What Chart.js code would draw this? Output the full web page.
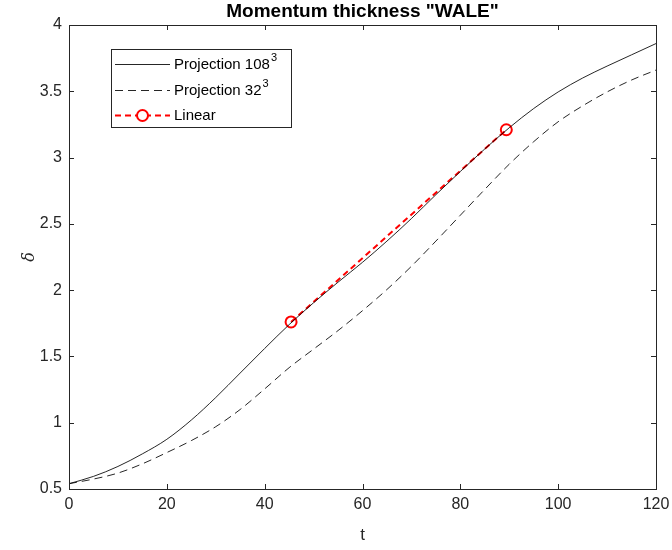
<!DOCTYPE html>
<html>
<head>
<meta charset="utf-8">
<title>Momentum thickness</title>
<script src="https://cdn.jsdelivr.net/npm/chart.js@4.4.1/dist/chart.umd.min.js"></script>
<style>
    html, body { margin: 0; padding: 0; background: #ffffff; }
    #wrap { width: 672px; height: 550px; }
</style>
</head>
<body>
<div id="wrap"><canvas id="thetaChart"></canvas></div>
<script>
// momentum thickness vs time, two projection resolutions + linear fit segment
const tValues = [0, 5, 10, 15, 20, 25, 30, 35, 40, 45, 50, 55, 60, 65, 70, 75, 80, 85, 90, 95, 100, 105, 110, 115, 120];
const proj108 = [0.54, 0.595, 0.67, 0.765, 0.875, 1.02, 1.19, 1.375, 1.56, 1.74, 1.905, 2.06, 2.21, 2.37, 2.54, 2.72, 2.895, 3.065, 3.225, 3.37, 3.495, 3.60, 3.69, 3.775, 3.86];
const proj32 = [0.54, 0.575, 0.62, 0.69, 0.775, 0.865, 0.97, 1.10, 1.255, 1.415, 1.555, 1.695, 1.845, 2.005, 2.18, 2.37, 2.565, 2.76, 2.95, 3.12, 3.27, 3.39, 3.495, 3.585, 3.66];
const linearT = [45.4, 89.4];
const linearDelta = [1.76, 3.21];

const xTicks = [0, 20, 40, 60, 80, 100, 120];
const yTicks = [0.5, 1, 1.5, 2, 2.5, 3, 3.5, 4];

const legendItems = [
    { text: 'Projection 108', sup: '3' },
    { text: 'Projection 32', sup: '3' },
    { text: 'Linear', sup: '' }
];

const axisColor = '#262626';
const fontFamily = '"Liberation Sans", Arial, Helvetica, sans-serif';

function toPoints(xs, ys) {
    return xs.map((x, i) => ({ x: x, y: ys[i] }));
}

// box around the axes with inward ticks on all four sides, plus title and legend
const matlabAxes = {
    id: 'matlabAxes',
    afterDraw(chart) {
        const ctx = chart.ctx;
        const a = chart.chartArea;
        const sx = chart.scales.x;
        const sy = chart.scales.y;
        const tickLen = 5;

        ctx.save();
        ctx.strokeStyle = axisColor;
        ctx.lineWidth = 1;
        ctx.strokeRect(Math.round(a.left) + 0.5, Math.round(a.top) + 0.5,
            Math.round(a.right - a.left), Math.round(a.bottom - a.top));

        ctx.beginPath();
        xTicks.forEach(v => {
            const px = Math.round(sx.getPixelForValue(v)) + 0.5;
            ctx.moveTo(px, a.bottom);
            ctx.lineTo(px, a.bottom - tickLen);
            ctx.moveTo(px, a.top);
            ctx.lineTo(px, a.top + tickLen);
        });
        yTicks.forEach(v => {
            const py = Math.round(sy.getPixelForValue(v)) + 0.5;
            ctx.moveTo(a.left, py);
            ctx.lineTo(a.left + tickLen, py);
            ctx.moveTo(a.right, py);
            ctx.lineTo(a.right - tickLen, py);
        });
        ctx.stroke();

        // title
        ctx.fillStyle = '#000000';
        ctx.font = 'bold 19px ' + fontFamily;
        ctx.textAlign = 'center';
        ctx.textBaseline = 'middle';
        ctx.fillText('Momentum thickness "WALE"', (a.left + a.right) / 2, 12);

        // legend
        const box = { x: 111, y: 49, w: 180, h: 78 };
        ctx.fillStyle = '#ffffff';
        ctx.fillRect(box.x, box.y, box.w, box.h);
        ctx.strokeStyle = axisColor;
        ctx.strokeRect(box.x + 0.5, box.y + 0.5, box.w, box.h);

        const rowY = [64, 90, 115];
        chart.data.datasets.forEach((ds, i) => {
            const y = rowY[i] + 0.5;
            ctx.save();
            ctx.strokeStyle = ds.borderColor;
            ctx.lineWidth = ds.borderWidth;
            ctx.setLineDash(ds.borderDash || []);
            ctx.beginPath();
            ctx.moveTo(115, y);
            ctx.lineTo(170, y);
            ctx.stroke();
            ctx.setLineDash([]);
            if (ds.pointRadius > 0) {
                ctx.fillStyle = '#ffffff';
                ctx.lineWidth = ds.pointBorderWidth;
                ctx.beginPath();
                ctx.arc(142.5, y, ds.pointRadius, 0, Math.PI * 2);
                ctx.fill();
                ctx.stroke();
            }
            ctx.restore();

            const item = legendItems[i];
            ctx.fillStyle = '#000000';
            ctx.textAlign = 'left';
            ctx.textBaseline = 'middle';
            ctx.font = '15px ' + fontFamily;
            ctx.fillText(item.text, 174, rowY[i] + 1);
            if (item.sup) {
                const w = ctx.measureText(item.text).width;
                ctx.font = '11px ' + fontFamily;
                ctx.fillText(item.sup, 174 + w + 1, rowY[i] - 6);
            }
        });
        ctx.restore();
    }
};

const chart = new Chart(document.getElementById('thetaChart'), {
    type: 'line',
    data: {
        datasets: [{
            label: 'Projection 108^3',
            data: toPoints(tValues, proj108),
            borderColor: 'rgba(0, 0, 0, 0.85)',
            borderWidth: 1,
            pointRadius: 0,
            cubicInterpolationMode: 'monotone',
            fill: false
        }, {
            label: 'Projection 32^3',
            data: toPoints(tValues, proj32),
            borderColor: 'rgba(0, 0, 0, 0.85)',
            borderWidth: 1,
            borderDash: [8, 5],
            pointRadius: 0,
            cubicInterpolationMode: 'monotone',
            fill: false
        }, {
            label: 'Linear',
            data: toPoints(linearT, linearDelta),
            borderColor: '#ff0000',
            borderWidth: 2,
            borderDash: [6, 4],
            pointRadius: 5.5,
            pointBorderWidth: 2,
            pointBorderColor: '#ff0000',
            pointBackgroundColor: 'rgba(0, 0, 0, 0)',
            fill: false
        }]
    },
    options: {
        responsive: true,
        maintainAspectRatio: false,
        animation: false,
        devicePixelRatio: 1,
        layout: { padding: { top: 25, right: 16, left: 0, bottom: 0 } },
        plugins: {
            legend: { display: false },
            tooltip: { enabled: false },
            title: { display: false }
        },
        scales: {
            x: {
                type: 'linear',
                min: 0,
                max: 120,
                afterBuildTicks: s => { s.ticks = xTicks.map(v => ({ value: v })); },
                afterFit: s => { s.height = 61; s.paddingLeft = 0; s.paddingRight = 0; },
                grid: { display: false, drawTicks: false },
                border: { display: false },
                ticks: {
                    color: axisColor,
                    padding: 6,
                    maxRotation: 0,
                    font: { family: fontFamily, size: 16 },
                    callback: v => String(v)
                },
                title: {
                    display: true,
                    text: 't',
                    color: axisColor,
                    font: { family: fontFamily, size: 17 },
                    padding: { top: 0, bottom: 4 }
                }
            },
            y: {
                type: 'linear',
                min: 0.5,
                max: 4,
                afterBuildTicks: s => { s.ticks = yTicks.map(v => ({ value: v })); },
                afterFit: s => { s.width = 69; s.paddingTop = 0; s.paddingBottom = 0; },
                grid: { display: false, drawTicks: false },
                border: { display: false },
                ticks: {
                    color: axisColor,
                    padding: 7,
                    font: { family: fontFamily, size: 16 },
                    callback: v => String(v)
                },
                title: {
                    display: true,
                    text: 'δ',
                    color: axisColor,
                    font: { family: '"DejaVu Serif", "Liberation Serif", serif', size: 16, style: 'italic' },
                    padding: { top: 20, bottom: 0 }
                }
            }
        }
    },
    plugins: [matlabAxes]
});
</script>
</body>
</html>
